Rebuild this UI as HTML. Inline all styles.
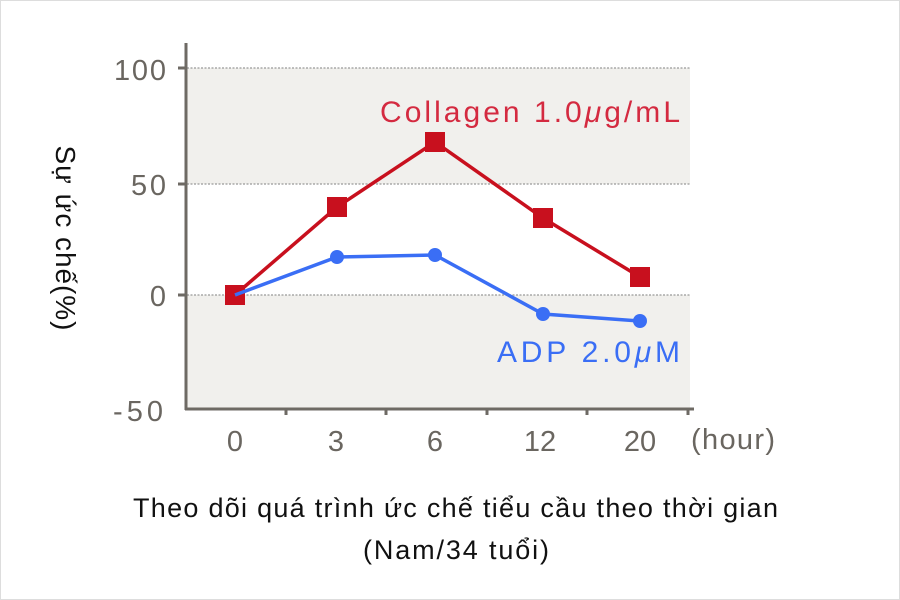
<!DOCTYPE html>
<html><head><meta charset="utf-8"><style>
html,body{margin:0;padding:0;background:#fff;}
body{width:900px;height:600px;overflow:hidden;position:relative;}
</style></head><body>
<svg width="900" height="600" viewBox="0 0 900 600" xmlns="http://www.w3.org/2000/svg" style="position:absolute;left:0;top:0">
<rect x="0.5" y="0.5" width="899" height="599" fill="#fff" stroke="#ddd"/>
<rect x="187" y="68" width="503" height="116" fill="#f1f0ed"/>
<rect x="187" y="295" width="503" height="114" fill="#f1f0ed"/>
<g stroke="#999" stroke-width="1.2" stroke-dasharray="2,1.5">
<line x1="187" y1="68" x2="690" y2="68"/>
<line x1="187" y1="184" x2="690" y2="184"/>
<line x1="187" y1="295" x2="690" y2="295"/>
</g>
<g stroke="#6e6a64" stroke-width="3" fill="none">
<line x1="186" y1="43" x2="186" y2="410"/>
<line x1="185" y1="409" x2="694" y2="409"/>
<line x1="178" y1="68" x2="186" y2="68"/>
<line x1="178" y1="184" x2="186" y2="184"/>
<line x1="178" y1="295" x2="186" y2="295"/>
<line x1="286" y1="409" x2="286" y2="415"/>
<line x1="386" y1="409" x2="386" y2="415"/>
<line x1="487" y1="409" x2="487" y2="415"/>
<line x1="587" y1="409" x2="587" y2="415"/>
<line x1="688" y1="409" x2="688" y2="415"/>
</g>
<g font-family="Liberation Sans, sans-serif" font-size="29" fill="#6a6660" text-anchor="end">
<text x="166" y="80" textLength="52">100</text>
<text x="166" y="195" textLength="35">50</text>
<text x="166" y="306">0</text>
<text x="163" y="421" textLength="50">-50</text>
</g>
<g font-family="Liberation Sans, sans-serif" font-size="29" fill="#6a6660" text-anchor="middle">
<text x="235" y="451">0</text>
<text x="336" y="451">3</text>
<text x="435" y="451">6</text>
<text x="540" y="451">12</text>
<text x="640" y="451">20</text>
<text x="733" y="449" textLength="84">(hour)</text>
</g>
<polyline points="235,295 337,207 435,142 543,218 640,277" fill="none" stroke="#c8101e" stroke-width="3.5"/>
<g fill="#c8101e">
<rect x="225" y="285" width="20" height="20"/>
<rect x="327" y="197" width="20" height="20"/>
<rect x="425" y="132" width="20" height="20"/>
<rect x="533" y="208" width="20" height="20"/>
<rect x="630" y="267" width="20" height="20"/>
</g>
<polyline points="235,295 337,257 435,255 543,314 640,321" fill="none" stroke="#3a6ef5" stroke-width="3.5"/>
<g fill="#3a6ef5">
<circle cx="337" cy="257" r="7"/>
<circle cx="435" cy="255" r="7"/>
<circle cx="543" cy="314" r="7"/>
<circle cx="640" cy="321" r="7"/>
</g>
<text x="380" y="122" textLength="300" font-family="Liberation Sans, sans-serif" font-size="30" fill="#d42a40">Collagen 1.0<tspan font-style="italic">μ</tspan>g/mL</text>
<text x="497" y="362" textLength="183" font-family="Liberation Sans, sans-serif" font-size="30" fill="#3a6ef5">ADP 2.0<tspan font-style="italic">μ</tspan>M</text>
<text transform="translate(56,238) rotate(90)" text-anchor="middle" font-family="Liberation Sans, sans-serif" font-size="28" fill="#111" textLength="185">Sự ức chế(%)</text>
<g font-family="Liberation Sans, sans-serif" font-size="27" fill="#111">
<text x="133" y="517" textLength="645">Theo dõi quá trình ức chế tiểu cầu theo thời gian</text>
<text x="363" y="559" textLength="186">(Nam/34 tuổi)</text>
</g>
</svg>
</body></html>
